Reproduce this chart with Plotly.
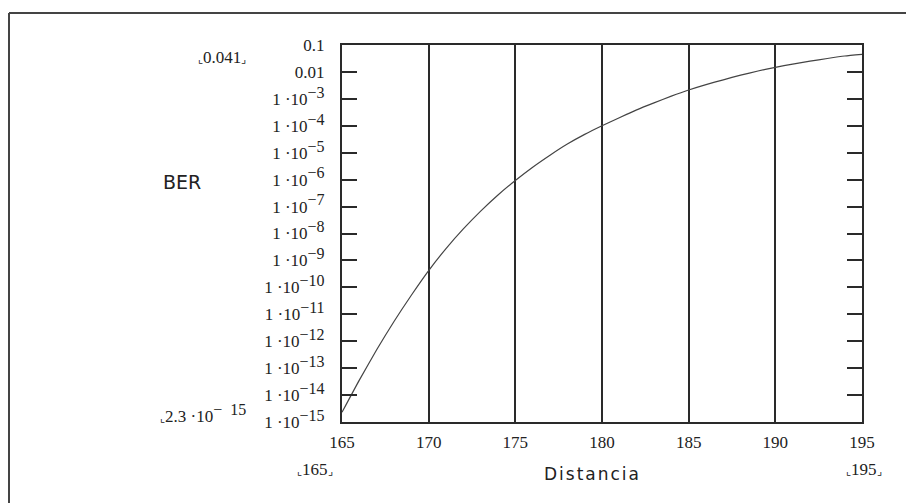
import plotly.graph_objects as go

# ---- data ----
distance_km = [165, 166, 167, 168, 169, 170, 171, 172, 173, 174, 175, 176, 177, 178, 179, 180,
               181, 182, 183, 184, 185, 186, 187, 188, 189, 190, 191, 192, 193, 194, 195]
ber = [2.3e-15, 3.6e-14, 4.8e-13, 5.4e-12, 5.1e-11, 4.2e-10, 2.75e-9, 1.48e-8, 6.8e-8, 2.7e-7,
       9.3e-7, 2.9e-6, 8.1e-6, 2.1e-5, 4.8e-5, 1.0e-4, 2.0e-4, 3.9e-4, 7.1e-4, 1.26e-3,
       2.14e-3, 3.4e-3, 5.1e-3, 7.6e-3, 1.08e-2, 1.48e-2, 1.95e-2, 2.5e-2, 3.16e-2, 3.9e-2, 4.5e-2]

x_tick_vals = [165, 170, 175, 180, 185, 190, 195]
x_tick_text = ["165", "170", "175", "180", "185", "190", "195"]
y_tick_vals = [1e-1, 1e-2, 1e-3, 1e-4, 1e-5, 1e-6, 1e-7, 1e-8, 1e-9, 1e-10,
               1e-11, 1e-12, 1e-13, 1e-14, 1e-15]
y_exponents = ["", "", "3", "4", "5", "6", "7", "8", "9", "10", "11", "12", "13", "14", "15"]
y_tick_plain = ["0.1", "0.01"]

SUP = "<sup><span style='font-size:16px'>−{}</span></sup>"
y_tick_text = y_tick_plain + ["1 ·10" + SUP.format(e) for e in y_exponents[2:]]

# ---- layout constants ----
# The page body has an 8px margin, so screen pixel (sx, sy) = figure pixel (sx-8, sy-8).
OFF = 8
W, H = 906, 495
L, T = 342 - OFF, 45 - OFF
R = W - (862 - OFF)
B = H - (421.6 - OFF)
PW, PH = W - L - R, H - T - B


def px(sx):
    return (sx - OFF - L) / PW


def py(sy):
    return (H - B - (sy - OFF)) / PH


serif = "Liberation Serif, Times New Roman, serif"
sans = "DejaVu Sans, Verdana, sans-serif"
axis_col = "#2a2a2a"

fig = go.Figure()
fig.add_trace(go.Scatter(
    x=distance_km, y=ber, mode="lines",
    line=dict(color="#444444", width=1.2, shape="spline", smoothing=0.5),
    showlegend=False, hoverinfo="skip"))

fig.update_layout(
    width=W, height=H,
    margin=dict(l=L, r=R, t=T, b=B),
    paper_bgcolor="white", plot_bgcolor="white",
    showlegend=False,
    font=dict(family=serif, size=17, color="#222222"),
)

fig.update_xaxes(
    range=[165, 195], tickmode="array", tickvals=x_tick_vals, ticktext=x_tick_text,
    showgrid=True, gridcolor=axis_col, gridwidth=2,
    showline=True, linecolor=axis_col, linewidth=2, mirror=True,
    ticks="", zeroline=False, ticklabelstandoff=4,
    tickfont=dict(family=serif, size=17, color="#222222"),
)
fig.update_yaxes(
    type="log", range=[-15, -1], tickmode="array", tickvals=y_tick_vals, ticktext=y_tick_text,
    showgrid=False, showline=True, linecolor=axis_col, linewidth=2, mirror="ticks",
    ticks="inside", ticklen=15, tickwidth=2, tickcolor=axis_col,
    zeroline=False, ticklabelstandoff=12,
    tickfont=dict(family=serif, size=17, color="#222222"),
)

corner_l = "<span style='font-size:11px'>⌞</span>"
corner_r = "<span style='font-size:11px'>⌟</span>"

annotations = [
    dict(text=corner_l + "0.041" + corner_r, x=px(222), y=py(57), font=dict(family=serif, size=17)),
    dict(text="BER", x=px(182), y=py(182), font=dict(family=sans, size=19)),
    dict(text=corner_l + "2.3 ·10" + "<sup><span style='font-size:16px'>−  15</span></sup>",
         x=px(158), y=py(413), xanchor="left", font=dict(family=serif, size=17)),
    dict(text=corner_l + "165" + corner_r, x=px(315), y=py(469), font=dict(family=serif, size=17)),
    dict(text="<span style='letter-spacing:2px'>Distancia</span>", x=px(592), y=py(474),
         font=dict(family=sans, size=17)),
    dict(text=corner_l + "195" + corner_r, x=px(864), y=py(469), font=dict(family=serif, size=17)),
]
for a in annotations:
    a.setdefault("xanchor", "center")
    fig.add_annotation(xref="paper", yref="paper", showarrow=False, yanchor="middle",
                       font_color="#222222", **a)

# outer frame (only its left and top edges fall inside the picture)
fig.add_shape(type="line", xref="paper", yref="paper",
              x0=px(9), x1=px(W + 40), y0=py(13), y1=py(13),
              line=dict(color="#444444", width=2))
fig.add_shape(type="line", xref="paper", yref="paper",
              x0=px(9), x1=px(9), y0=py(13), y1=py(H + 40),
              line=dict(color="#444444", width=2))

fig.write_html("out.html")
